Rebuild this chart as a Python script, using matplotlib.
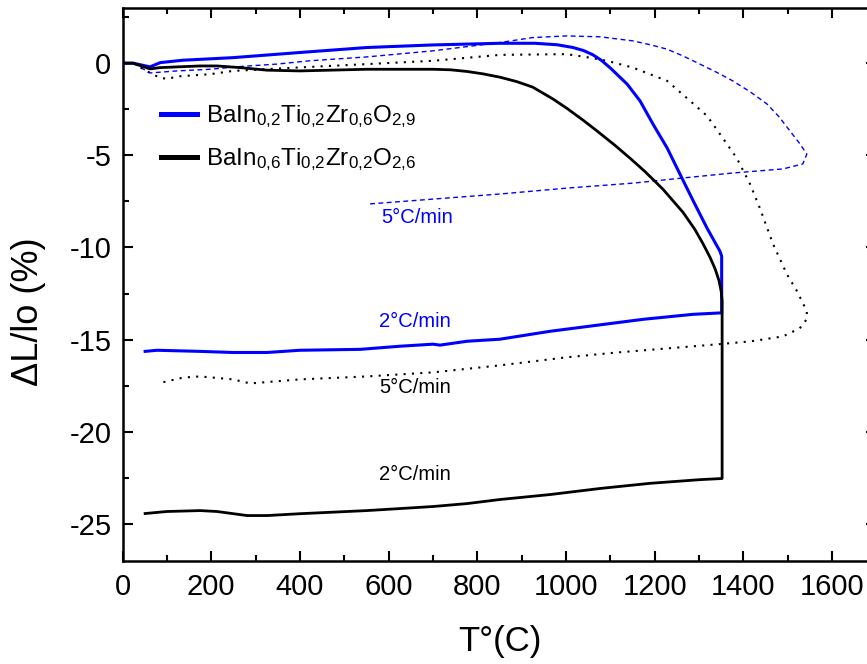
import matplotlib
matplotlib.use("Agg")
import matplotlib.pyplot as plt

plt.rcParams['font.family'] = ['Liberation Sans', 'DejaVu Sans']
plt.rcParams['mathtext.fontset'] = 'custom'
plt.rcParams['mathtext.rm'] = 'Liberation Sans'
plt.rcParams['mathtext.it'] = 'Liberation Sans:italic'
plt.rcParams['mathtext.bf'] = 'Liberation Sans:bold'
plt.rcParams['axes.unicode_minus'] = False

# ---- data ----
# BaIn0,2Ti0,2Zr0,6O2,9 at 2 C/min (solid blue)
blue2_T = [6, 24, 62, 85, 136, 249, 400, 551, 700, 851, 930, 980, 1016, 1040, 1061, 1080, 1099,
           1138, 1167, 1196, 1228, 1257, 1287, 1318, 1347, 1351, 1351, 1286, 1174, 1077, 964,
           851, 777, 716, 700, 626, 536, 400, 326, 249, 175, 78, 51]
blue2_dL = [0, 0, -0.2, 0.03, 0.16, 0.30, 0.58, 0.85, 0.99, 1.08, 1.08, 1.0, 0.85, 0.68, 0.45,
            0.15, -0.24, -1.14, -2.05, -3.30, -4.60, -6.02, -7.48, -8.95, -10.2, -10.47,
            -13.55, -13.63, -13.9, -14.2, -14.55, -14.98, -15.09, -15.3, -15.25, -15.36, -15.53,
            -15.58, -15.7, -15.7, -15.64, -15.58, -15.64]

# BaIn0,6Ti0,2Zr0,2O2,6 at 2 C/min (solid black)
black2_T = [6, 24, 62, 85, 175, 213, 265, 326, 400, 551, 700, 740, 777, 813, 851, 889, 925, 971,
            1002, 1040, 1070, 1110, 1145, 1178, 1219, 1264, 1290, 1309, 1325, 1336, 1345, 1350,
            1352, 1352, 1303, 1190, 1077, 964, 851, 777, 700, 626, 551, 400, 326, 281, 213, 175,
            100, 51]
black2_dL = [0, 0, -0.31, -0.24, -0.15, -0.15, -0.24, -0.38, -0.42, -0.33, -0.33, -0.36, -0.45,
             -0.58, -0.76, -1.0, -1.3, -1.95, -2.45, -3.12, -3.68, -4.45, -5.17, -5.88, -6.85,
             -8.1, -9.0, -9.8, -10.55, -11.15, -11.8, -12.4, -12.9, -22.54, -22.6, -22.8, -23.08,
             -23.41, -23.68, -23.9, -24.06, -24.17, -24.28, -24.45, -24.55, -24.55, -24.33,
             -24.28, -24.33, -24.44]

# BaIn0,2Ti0,2Zr0,6O2,9 at 5 C/min (dashed blue)
blue5_T = [6, 24, 62, 123, 197, 272, 348, 422, 551, 700, 851, 925, 1002, 1077, 1151, 1190, 1228,
           1265, 1302, 1340, 1376, 1415, 1453, 1480, 1505, 1525, 1543, 1534, 1489, 1376, 1264,
           1151, 1002, 851, 551]
blue5_dL = [0, 0, -0.53, -0.42, -0.33, -0.17, -0.05, 0.13, 0.34, 0.67, 1.12, 1.39, 1.48, 1.43,
            1.21, 1.0, 0.76, 0.38, -0.05, -0.5, -0.96, -1.55, -2.21, -2.9, -3.68, -4.3, -4.93,
            -5.47, -5.74, -5.96, -6.23, -6.51, -6.78, -7.1, -7.65]

# BaIn0,6Ti0,2Zr0,2O2,6 at 5 C/min (dotted black)
black5_T = [6, 24, 62, 85, 103, 123, 197, 249, 400, 551, 700, 851, 1002, 1054, 1092, 1151, 1228,
            1280, 1318, 1347, 1385, 1415, 1437, 1467, 1498, 1521, 1543, 1543, 1527, 1489, 1415,
            1340, 1228, 1115, 1002, 851, 700, 551, 400, 288, 249, 175, 137, 80]
black5_dL = [0, 0, -0.53, -0.8, -0.85, -0.72, -0.6, -0.42, -0.23, -0.05, 0.13, 0.45, 0.49, 0.30,
             0.13, -0.24, -0.96, -2.05, -2.86, -3.84, -5.15, -6.56, -7.86, -9.82, -11.45, -12.38,
             -13.46, -13.89, -14.39, -14.83, -15.1, -15.26, -15.48, -15.7, -15.96, -16.4, -16.78,
             -17.0, -17.16, -17.38, -17.16, -17.0, -17.06, -17.38]

legend_labels = ['BaIn$_{0{,}2}$Ti$_{0{,}2}$Zr$_{0{,}6}$O$_{2{,}9}$',
                 'BaIn$_{0{,}6}$Ti$_{0{,}2}$Zr$_{0{,}2}$O$_{2{,}6}$']
rate_labels = ['5°C/min', '2°C/min', '5°C/min', '2°C/min']
rate_pos = [(664, -8.35), (660, -14.0), (660, -17.6), (660, -22.3)]
rate_colors = ['blue', 'blue', 'black', 'black']

# ---- figure ----
fig = plt.figure(figsize=(8.67, 6.64), dpi=100)
ax = fig.add_axes([122.5 / 867, 103.3 / 664, 1700 * 0.4435 / 867, 552.8 / 664])

ax.plot(blue5_T, blue5_dL, color='blue', lw=1.0, linestyle=(0, (3.5, 2.5)))
ax.plot(black5_T, black5_dL, color='black', lw=1.5, linestyle=(0, (1, 3)))
l1, = ax.plot(blue2_T, blue2_dL, color='blue', lw=2.2, solid_joinstyle='round')
l2, = ax.plot(black2_T, black2_dL, color='black', lw=2.0, solid_joinstyle='round')

for txt, (x, y), c in zip(rate_labels, rate_pos, rate_colors):
    ax.text(x, y, txt, color=c, fontsize=14.5, ha='center', va='center')

ax.set_xlim(0, 1700)
ax.set_ylim(-27, 3)
ax.set_xticks(range(0, 1601, 200))
ax.set_xticks(range(100, 1700, 200), minor=True)
ax.set_yticks([0, -5, -10, -15, -20, -25])
ax.set_yticks([2.5, -2.5, -7.5, -12.5, -17.5, -22.5], minor=True)
ax.tick_params(which='both', direction='in', top=True, right=True, width=1.5, labelsize=21)
ax.tick_params(which='major', length=7.5)
ax.tick_params(which='minor', length=4)
ax.tick_params(axis='x', pad=9)
ax.tick_params(axis='y', pad=8)
for s in ax.spines.values():
    s.set_linewidth(1.8)

ax.set_xlabel('T°(C)', fontsize=25, labelpad=17)
ax.set_ylabel('ΔL/lo (%)', fontsize=26)
ax.yaxis.set_label_coords(-0.101, 0.45)

leg = ax.legend([l1, l2], legend_labels, loc='upper left', bbox_to_anchor=(0.051, 0.827),
                frameon=False, fontsize=17.5, borderpad=0, borderaxespad=0,
                handlelength=1.5, handletextpad=0.37, labelspacing=0.66)
for ln in leg.get_lines():
    ln.set_linewidth(3.6)

fig.savefig('out.png', dpi=100)
